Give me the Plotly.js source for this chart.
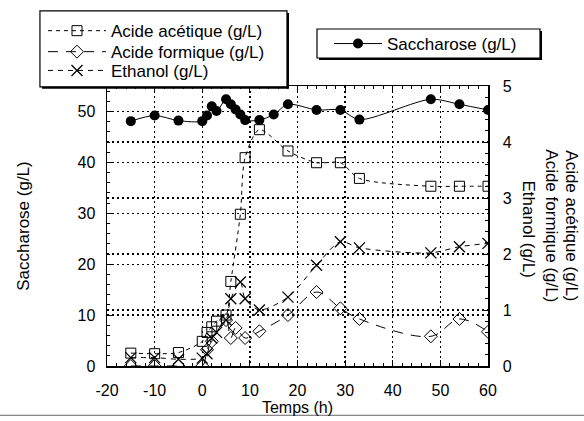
<!DOCTYPE html>
<html>
<head>
<meta charset="utf-8">
<script src="https://cdn.plot.ly/plotly-3.0.1.min.js"></script>
<style>html,body{margin:0;padding:0;background:#fff;}#chart{width:584px;height:421px;}</style>
</head>
<body>
<div id="chart"></div>
<script>
// Saccharose (left axis, g/L)
const tSaccharose = [-15, -10, -5, 0, 1, 2, 3, 5, 6, 7, 8, 9, 12, 15, 18, 24, 29, 33, 48, 54, 60];
const saccharose  = [48.1, 49.2, 48.2, 48.1, 49.2, 51.0, 50.1, 52.4, 51.4, 50.4, 49.4, 48.3, 48.3, 49.4, 51.4, 50.3, 50.3, 48.4, 52.4, 51.4, 50.3];

// Acide acétique (right axis, g/L)
const tAcetique = [-15, -10, -5, 0, 1, 2, 3, 5, 6, 8, 9, 12, 18, 24, 29, 33, 48, 54, 60];
const acetique  = [0.23, 0.22, 0.24, 0.44, 0.6, 0.7, 0.8, 0.91, 1.51, 2.71, 3.72, 4.22, 3.84, 3.63, 3.63, 3.35, 3.21, 3.21, 3.21];

// Acide formique (right axis, g/L)
const tFormique = [-15, -10, -5, 0, 1, 2, 5, 6, 7, 9, 12, 18, 24, 29, 33, 48, 54, 60];
const formique  = [0.0, 0.0, 0.0, 0.0, 0.29, 0.44, 0.82, 0.5, 0.68, 0.5, 0.62, 0.91, 1.32, 1.03, 0.84, 0.53, 0.84, 0.61];

// Ethanol (right axis, g/L)
const tEthanol = [-15, -10, -5, 0, 1, 2, 3, 5, 6, 8, 9, 12, 18, 24, 29, 33, 48, 54, 60];
const ethanol  = [0.15, 0.15, 0.12, 0.14, 0.22, 0.5, 0.6, 0.82, 1.2, 1.5, 1.2, 1.0, 1.23, 1.8, 2.22, 2.11, 2.02, 2.13, 2.19];

const xTicks = [-20, -10, 0, 10, 20, 30, 40, 50, 60];
const yLeftTicks = [0, 10, 20, 30, 40, 50];
const yRightTicks = [0, 1, 2, 3, 4, 5];

const FONT = 'Liberation Sans, Arial, Helvetica, sans-serif';

const traces = [
  {
    x: tAcetique, y: acetique, yaxis: 'y2', legend: 'legend',
    name: 'Acide acétique (g/L)', mode: 'lines+markers',
    line: {color: '#000', width: 1, dash: '4px,4px', shape: 'spline', smoothing: 0.8},
    marker: {symbol: 'square-open', size: 10, color: '#000', line: {width: 1, color: '#000'}}
  },
  {
    x: tFormique, y: formique, yaxis: 'y2', legend: 'legend3',
    name: 'Acide formique (g/L)', mode: 'lines+markers',
    line: {color: '#000', width: 1, dash: '10px,8px', shape: 'spline', smoothing: 1},
    marker: {symbol: 'diamond-open', size: 10, color: '#000', line: {width: 1, color: '#000'}}
  },
  {
    x: tEthanol, y: ethanol, yaxis: 'y2', legend: 'legend4',
    name: 'Ethanol (g/L)', mode: 'lines+markers',
    line: {color: '#000', width: 1, dash: '5px,5px', shape: 'spline', smoothing: 0.8},
    marker: {symbol: 'x-thin-open', size: 11, color: '#000', line: {width: 1.3, color: '#000'}}
  },
  {
    x: tSaccharose, y: saccharose, yaxis: 'y', legend: 'legend2',
    name: 'Saccharose (g/L)', mode: 'lines+markers',
    line: {color: '#000', width: 1, shape: 'spline', smoothing: 0.8},
    marker: {symbol: 'circle', size: 10, color: '#000'}
  }
];

const gridStyle = {showgrid: true, gridcolor: '#000', griddash: '1.5px,3.5px', gridwidth: 1.3};

function itemLegend(x, y, w) {
  return {
    x: x, y: y, xanchor: 'left', yanchor: 'middle',
    bgcolor: 'rgba(0,0,0,0)', borderwidth: 0,
    font: {size: 17, family: FONT, color: '#000'}, itemwidth: w
  };
}

const layout = {
  width: 584, height: 421,
  margin: {l: 107, r: 96, t: 86, b: 55},
  paper_bgcolor: '#fff', plot_bgcolor: '#fff',
  font: {family: FONT, size: 16, color: '#000'},
  showlegend: true,
  xaxis: Object.assign({
    range: [-20, 60], tickvals: xTicks, ticktext: xTicks.map(String),
    ticks: 'inside', ticklen: 6, tickcolor: '#000', tickwidth: 1,
    minor: {dtick: 2, ticks: 'inside', ticklen: 3, tickcolor: '#000', showgrid: false},
    showline: true, linecolor: '#000', linewidth: 1.5, mirror: 'ticks',
    zeroline: false, ticklabelstandoff: 9,
    title: {text: 'Temps (h)', font: {size: 16}, standoff: 1},
    tickfont: {size: 16}
  }, gridStyle),
  yaxis: Object.assign({
    range: [0, 55], tickvals: yLeftTicks, ticktext: yLeftTicks.map(String),
    ticks: 'inside', ticklen: 6, tickcolor: '#000',
    minor: {dtick: 2, ticks: 'inside', ticklen: 3, tickcolor: '#000', showgrid: false},
    showline: true, linecolor: '#000', linewidth: 1.5,
    zeroline: false, ticklabelstandoff: 7,
    title: {text: 'Saccharose (g/L)', font: {size: 17}, standoff: 43},
    tickfont: {size: 16}
  }, gridStyle),
  yaxis2: Object.assign({
    range: [0, 5], overlaying: 'y', side: 'right',
    tickvals: yRightTicks, ticktext: yRightTicks.map(String),
    ticks: 'inside', ticklen: 6, tickcolor: '#000',
    minor: {dtick: 0.2, ticks: 'inside', ticklen: 3, tickcolor: '#000', showgrid: false},
    showline: true, linecolor: '#000', linewidth: 1.5,
    zeroline: false, ticklabelstandoff: 10,
    tickfont: {size: 16}
  }, gridStyle),
  legend: itemLegend(-0.168, 1.196, 58),
  legend3: itemLegend(-0.168, 1.121, 58),
  legend4: itemLegend(-0.168, 1.054, 58),
  legend2: itemLegend(0.5827, 1.15, 48),
  annotations: [
    {xref: 'paper', yref: 'paper', x: 1.2197, y: 0.5, xanchor: 'center', yanchor: 'middle',
     text: 'Acide acétique (g/L)', textangle: 90, showarrow: false, font: {size: 17, family: FONT}},
    {xref: 'paper', yref: 'paper', x: 1.1672, y: 0.5, xanchor: 'center', yanchor: 'middle',
     text: 'Acide formique (g/L)', textangle: 90, showarrow: false, font: {size: 17, family: FONT}},
    {xref: 'paper', yref: 'paper', x: 1.1058, y: 0.49, xanchor: 'center', yanchor: 'middle',
     text: 'Ethanol (g/L)', textangle: 90, showarrow: false, font: {size: 17, family: FONT}}
  ],
  shapes: [
    // legend box 1 with shadow
    {type: 'rect', xref: 'paper', yref: 'paper', layer: 'above', x0: -0.1706, x1: 0.4777, y0: 0.99, y1: 1.261,
     fillcolor: '#000', line: {width: 0}},
    {type: 'rect', xref: 'paper', yref: 'paper', layer: 'above', x0: -0.176, x1: 0.4724, y0: 0.997, y1: 1.268,
     fillcolor: '#fff', line: {color: '#000', width: 1.2}},
    // legend box 2 with shadow
    {type: 'rect', xref: 'paper', yref: 'paper', layer: 'above', x0: 0.5565, x1: 1.1418, y0: 1.093, y1: 1.196,
     fillcolor: '#000', line: {width: 0}},
    {type: 'rect', xref: 'paper', yref: 'paper', layer: 'above', x0: 0.5512, x1: 1.1365, y0: 1.1, y1: 1.2036,
     fillcolor: '#fff', line: {color: '#000', width: 1.2}},
    // scan edge line at the bottom
    {type: 'line', xref: 'paper', yref: 'paper', x0: -0.281, x1: 1.252, y0: -0.176, y1: -0.176,
     line: {color: '#666', width: 1}}
  ]
};

Plotly.newPlot('chart', traces, layout, {displayModeBar: false, staticPlot: true});
</script>
</body>
</html>
